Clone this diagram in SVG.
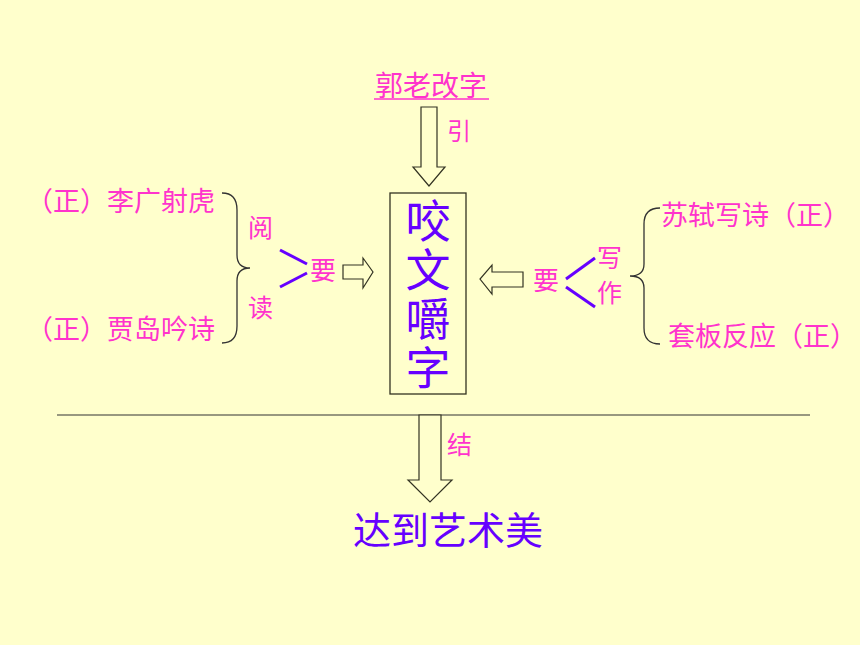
<svg xmlns="http://www.w3.org/2000/svg" width="860" height="645" viewBox="0 0 860 645">
<style>
.pk{fill:#FF33CC;font-family:"Noto Sans CJK SC","Liberation Sans",sans-serif;}
.pu{fill:#6600FF;font-family:"Noto Sans CJK SC","Liberation Sans",sans-serif;}
.ar{fill:#FFFFCC;stroke:#333322;stroke-width:1.2;}
.br{fill:none;stroke:#333333;stroke-width:1.3;}
.vl{stroke:#6600FF;stroke-width:3;stroke-linecap:butt;}
</style>
<rect width="860" height="645" fill="#FFFFCC"/>
<g id="title">
<text class="pk" x="431" y="96" font-size="28" text-anchor="middle">郭老改字</text>
<line x1="374" y1="99" x2="489" y2="99" stroke="#FF33CC" stroke-width="1.5"/>
</g>
<g id="center">
<rect x="390" y="193" width="76" height="201" fill="none" stroke="#333322" stroke-width="1.3"/>
<text class="pu" x="428" y="198" font-size="45" writing-mode="vertical-rl" letter-spacing="4">咬文嚼字</text>
</g>
<g id="left">
<text class="pk" x="26" y="211" font-size="27">（正）李广射虎</text>
<text class="pk" x="26" y="339" font-size="27">（正）贾岛吟诗</text>
<path class="br" d="M222,193 Q237,193 237,210 L237,255 Q237,268 250,268 Q237,268 237,281 L237,326 Q237,343 222,343"/>
<text class="pk" x="248" y="237" font-size="25">阅</text>
<text class="pk" x="248" y="317" font-size="25">读</text>
<text class="pk" x="310" y="280" font-size="26">要</text>
</g>
<g id="right">
<text class="pk" x="661" y="225" font-size="27">苏轼写诗（正）</text>
<text class="pk" x="668" y="346" font-size="27">套板反应（正）</text>
<path class="br" d="M660,208 Q644,208 644,224 L644,264 Q644,276 630,276 Q644,276 644,288 L644,328 Q644,344 660,344"/>
<text class="pk" x="597" y="267" font-size="25">写</text>
<text class="pk" x="597" y="302" font-size="25">作</text>
<text class="pk" x="533" y="290" font-size="26">要</text>
</g>
<g id="conclusion">
<text class="pu" x="448" y="544" font-size="38" text-anchor="middle">达到艺术美</text>
</g>
<g id="connectors">
<polygon class="ar" points="421,107 437,107 437,167 445,167 429,186 413,167 421,167"/>
<text class="pk" x="447" y="140" font-size="24">引</text>
<polygon class="ar" points="343,265 363,265 363,258 373,272 363,288 363,279 343,279"/>
<polygon class="ar" points="523,272 492,272 492,265 480,279 492,294 492,287 523,287"/>
<line x1="280" y1="250" x2="307" y2="264" class="vl"/>
<line x1="280" y1="287" x2="307" y2="273" class="vl"/>
<line x1="566" y1="279" x2="595" y2="258" class="vl"/>
<line x1="566" y1="287" x2="595" y2="307" class="vl"/>
<line x1="57" y1="415" x2="810" y2="415" stroke="#333333" stroke-width="1.2"/>
<polygon class="ar" points="419,415 441,415 441,480 452,480 430,502 408,480 419,480"/>
<text class="pk" x="447" y="454" font-size="25">结</text>
</g>
</svg>
